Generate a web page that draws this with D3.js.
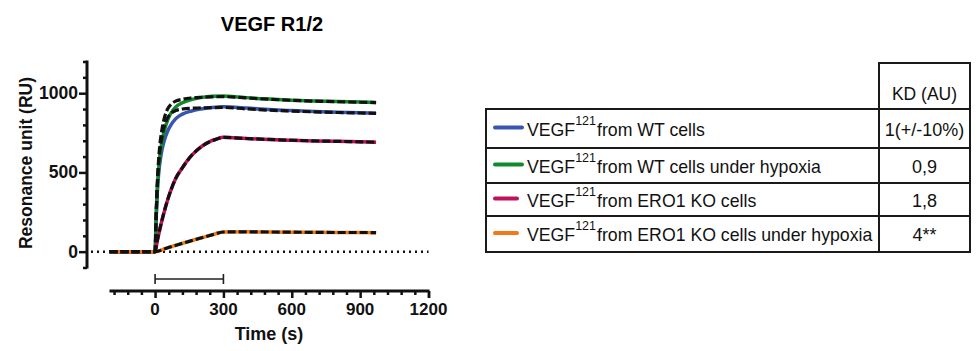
<!DOCTYPE html>
<html>
<head>
<meta charset="utf-8">
<script src="https://cdn.jsdelivr.net/npm/d3@7"></script>
<style>
  body { margin: 0; background: #fff; }
  svg { font-family: "Liberation Sans", Arial, sans-serif; }
</style>
</head>
<body>
<div id="chart"></div>
<script>
// sensorgram data, [time (s), RU]
const wtData = [[-200,0],[-100,0],[0,0],[5,220],[10,380],[15,480],[20,550],[30,640],[40,700],[55,760],[70,800],[90,838],[120,868],[160,888],[200,900],[250,910],[300,915],[350,912],[400,906],[500,897],[600,890],[700,884],[800,879],[900,876],[970,874]];
const wtFit = [[-200,0],[0,0],[5,240],[10,420],[15,540],[20,620],[30,720],[40,790],[55,845],[70,872],[90,890],[120,900],[160,905],[200,907],[250,909],[300,910],[400,901],[500,893],[600,887],[700,882],[800,878],[900,875],[970,873]];
const hypoData = [[-200,0],[-100,0],[0,0],[5,230],[10,400],[15,510],[20,590],[30,690],[40,760],[55,830],[70,875],[90,912],[120,940],[160,960],[200,972],[250,980],[300,982],[350,978],[400,972],[500,963],[600,956],[700,951],[800,947],[900,944],[970,942]];
const hypoFit = [[-200,0],[0,0],[5,250],[10,440],[15,570],[20,660],[30,770],[40,840],[55,900],[70,930],[90,950],[120,962],[160,970],[200,974],[250,977],[300,978],[400,970],[500,962],[600,955],[700,950],[800,946],[900,943],[970,941]];
const koData = [[-200,0],[-100,0],[0,0],[10,70],[20,135],[30,195],[40,250],[55,326],[70,390],[90,460],[120,530],[150,590],[180,635],[210,670],[240,695],[270,710],[300,722],[400,714],[500,708],[600,703],[700,699],[800,696],[900,693],[970,691]];
const koFit = [[-200,0],[0,0],[10,72],[20,138],[30,198],[40,252],[55,326],[70,390],[90,460],[120,530],[150,590],[180,635],[210,669],[240,694],[270,710],[300,721],[400,714],[500,708],[600,703],[700,699],[800,696],[900,693],[970,691]];
const koHypoData = [[-200,0],[-100,0],[0,0],[50,22],[100,44],[150,65],[200,86],[250,106],[300,124],[400,125],[500,124],[600,123],[700,122],[800,121],[900,121],[970,120]];
const koHypoFit = [[-200,0],[0,0],[50,22],[100,44],[150,65],[200,86],[250,106],[300,124],[400,125],[500,124],[600,123],[700,122],[800,121],[900,121],[970,120]];

const seriesNames = ["from WT cells", "from WT cells under hypoxia", "from ERO1 KO cells", "from ERO1 KO cells under hypoxia"];
const seriesColors = ["#3a55b0", "#118a2a", "#c0105a", "#f07a18"];
const kdValues = ["1(+/-10%)", "0,9", "1,8", "4**"];
const yTicks = [0, 500, 1000];
const xTicks = [0, 300, 600, 900, 1200];

const series = [
  { data: wtData, fit: wtFit },
  { data: hypoData, fit: hypoFit },
  { data: koData, fit: koFit },
  { data: koHypoData, fit: koHypoFit }
];

const W = 977, H = 351;
const svg = d3.select("#chart").append("svg")
    .attr("width", W).attr("height", H);

const x = d3.scaleLinear().domain([-200, 1200]).range([109.5, 428.5]);
const y = d3.scaleLinear().domain([-100, 1200]).range([267.5, 61.5]);
const yAxisX = 87, xAxisY = 291;

// title
svg.append("text")
    .attr("x", 272).attr("y", 31)
    .attr("text-anchor", "middle")
    .style("font-size", "20px").style("font-weight", "bold")
    .text("VEGF R1/2");

// y axis
const yAxis = svg.append("g").attr("transform", `translate(${yAxisX},0)`);
yAxis.call(d3.axisLeft(y).tickValues(d3.range(-100, 1201, 100)).tickSize(4).tickFormat(""))
yAxis.selectAll(".tick").filter(d => yTicks.includes(d)).select("line").attr("x2", -8);
yAxis.call(g => g.selectAll(".tick line").attr("stroke", "#111").attr("stroke-width", 2.5));
yAxis.select(".domain").attr("d", `M0,${y(1200) - 1}V${y(-100) + 1}`).attr("stroke", "#111").attr("stroke-width", 3);
yAxis.selectAll(".ylab").data(yTicks).enter().append("text")
    .attr("x", -9).attr("y", d => y(d) + 6)
    .attr("text-anchor", "end")
    .style("font-size", "17.5px").style("font-weight", "bold").attr("fill", "#111")
    .text(d => d);

svg.append("text")
    .attr("transform", `translate(32,${163}) rotate(-90)`)
    .attr("text-anchor", "middle")
    .style("font-size", "17.5px").style("font-weight", "bold").attr("fill", "#111")
    .text("Resonance unit (RU)");

// x axis (offset below plot)
const xAxis = svg.append("g").attr("transform", `translate(0,${xAxisY})`);
xAxis.call(d3.axisBottom(x).tickValues(d3.range(-180, 1201, 60).concat([1200])).tickSize(4).tickFormat(""));
xAxis.selectAll(".tick").filter(d => xTicks.includes(d)).select("line").attr("y2", 7);
xAxis.call(g => g.selectAll(".tick line").attr("stroke", "#111").attr("stroke-width", 2.5));
xAxis.select(".domain").attr("d", `M${x(-200)},0H${x(1200) + 1}`).attr("stroke", "#111").attr("stroke-width", 3);
xAxis.selectAll(".xlab").data(xTicks).enter().append("text")
    .attr("x", d => x(d)).attr("y", 24)
    .attr("text-anchor", "middle")
    .style("font-size", "17px").style("font-weight", "bold").attr("fill", "#111")
    .text(d => d);

svg.append("text")
    .attr("x", 269).attr("y", 340)
    .attr("text-anchor", "middle")
    .style("font-size", "18px").style("font-weight", "bold").attr("fill", "#111")
    .text("Time (s)");

// injection bar 0-300 s
const barY = 279;
svg.append("path")
    .attr("d", `M${x(0)},${barY}H${x(300)}M${x(0)},${barY - 5}V${barY + 5}M${x(300)},${barY - 5}V${barY + 5}`)
    .attr("stroke", "#222").attr("stroke-width", 1.6).attr("fill", "none");

// dotted baseline
svg.append("line")
    .attr("x1", yAxisX + 4).attr("x2", x(1200))
    .attr("y1", y(0)).attr("y2", y(0))
    .attr("stroke", "#111").attr("stroke-width", 2.5)
    .attr("stroke-dasharray", "2,4");

const line = d3.line().x(d => x(d[0])).y(d => y(d[1])).curve(d3.curveMonotoneX);

// colored data curves, then dashed fits on top
series.forEach((s, i) => {
  svg.append("path").datum(s.data)
      .attr("d", line).attr("fill", "none")
      .attr("stroke", seriesColors[i]).attr("stroke-width", 3.5);
});
series.slice().reverse().forEach(s => {
  svg.append("path").datum(s.fit)
      .attr("d", line).attr("fill", "none")
      .attr("stroke", "#111").attr("stroke-width", 3.2)
      .attr("stroke-dasharray", "8,3");
});

// KD table
const tbl = svg.append("g").attr("stroke", "#1a1a1a").attr("stroke-width", 2).attr("fill", "none");
const tLeft = 486, tRight = 970, tCol = 879, tHead = 63;
const rowLines = [109, 148, 183, 216, 252];
tbl.append("rect").attr("x", tCol).attr("y", tHead).attr("width", tRight - tCol).attr("height", rowLines[0] - tHead);
tbl.append("rect").attr("x", tLeft).attr("y", rowLines[0]).attr("width", tRight - tLeft).attr("height", rowLines[4] - rowLines[0]);
rowLines.slice(1, 4).forEach(ly => {
  tbl.append("line").attr("x1", tLeft).attr("x2", tRight).attr("y1", ly).attr("y2", ly);
});
tbl.append("line").attr("x1", tCol).attr("x2", tCol).attr("y1", rowLines[0]).attr("y2", rowLines[4]);

const kdX = (tCol + tRight) / 2;
svg.append("text").attr("x", kdX).attr("y", 100)
    .attr("text-anchor", "middle").style("font-size", "17.5px").attr("fill", "#111")
    .text("KD (AU)");

seriesNames.forEach((name, i) => {
  const top = rowLines[i], bot = rowLines[i + 1];
  const cy = (top + bot) / 2;
  const base = cy + 7;
  svg.append("line")
      .attr("x1", 495).attr("x2", i < 2 ? 522 : 517)
      .attr("y1", cy - 1).attr("y2", cy - 1)
      .attr("stroke", seriesColors[i]).attr("stroke-width", 4).attr("stroke-linecap", "round");
  const t1 = svg.append("text").attr("x", 527).attr("y", base)
      .style("font-size", "17.7px").attr("fill", "#111").text("VEGF");
  const w1 = t1.node().getComputedTextLength();
  const t2 = svg.append("text").attr("x", 527 + w1).attr("y", base - 11)
      .style("font-size", "12.5px").attr("fill", "#111").text("121");
  const w2 = t2.node().getComputedTextLength();
  svg.append("text").attr("x", 527 + w1 + w2 + 1).attr("y", base)
      .style("font-size", "17.7px").attr("fill", "#111").text(name);
  svg.append("text").attr("x", kdX).attr("y", base)
      .attr("text-anchor", "middle").style("font-size", "18px").attr("fill", "#111")
      .text(kdValues[i]);
});
</script>
</body>
</html>
